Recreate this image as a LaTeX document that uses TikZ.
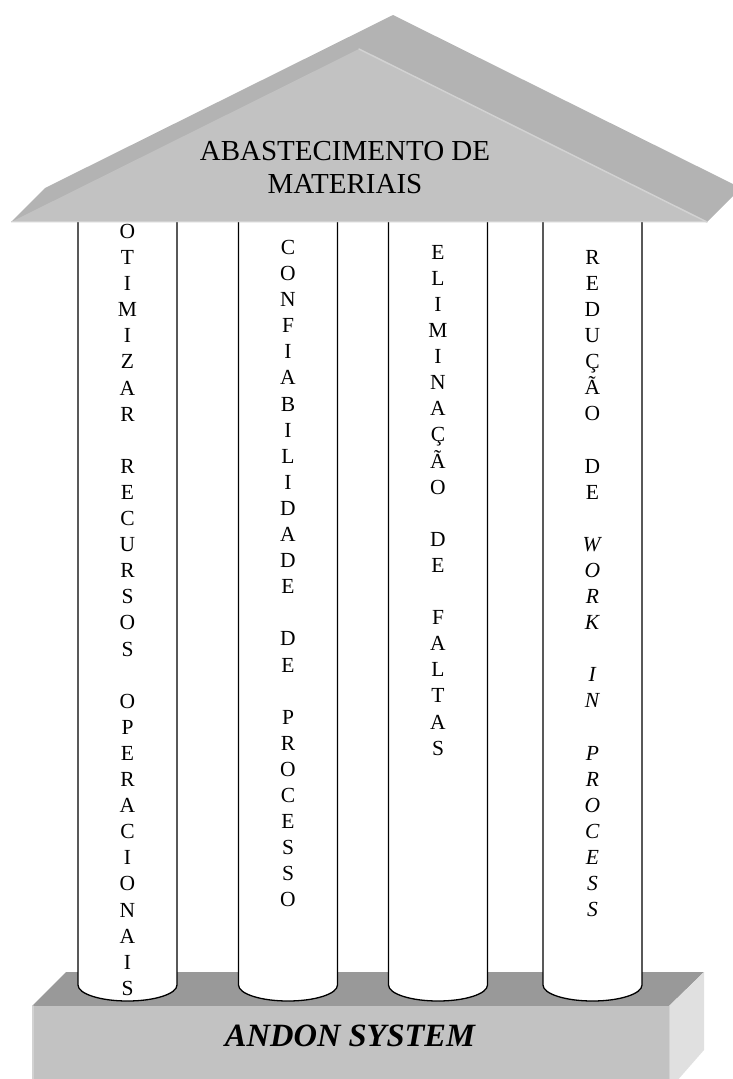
\documentclass[tikz,border=0pt]{standalone}
\usepackage{fontspec}
\setmainfont{Liberation Serif}
\definecolor{roofback}{HTML}{B3B3B3}
\definecolor{rooffront}{HTML}{C2C2C2}
\definecolor{roofedge}{HTML}{D2D2D2}
\definecolor{basetop}{HTML}{999999}
\definecolor{basefront}{HTML}{C2C2C2}
\definecolor{baseside}{HTML}{E0E0E0}
\begin{document}
\begin{tikzpicture}[x=1pt, y=-1pt, line join=round, line cap=round,
	pillar/.style={draw=black, fill=white, line width=1.3pt},
	letters/.style={align=center, inner sep=0pt, anchor=north, font=\fontsize{21.5}{26.1}\selectfont}]
	\def\ytop{215} % topo dos pilares
	\def\ybot{985}
	\def\rp{49.5}
	\useasboundingbox (0,0) rectangle (733,1079);
	\clip (0,0) rectangle (733,1079);
	% base
	\fill[basetop] (32,1006) -- (66,972) -- (704,972) -- (669,1006) -- cycle;
	\fill[basefront] (32,1006) rectangle (669,1090);
	\fill[baseside] (669,1006) -- (704,972) -- (704,1050) -- (669,1090) -- cycle;
	\draw[roofedge, line width=1pt] (669,1006) -- (669,1079);
	\draw[roofedge, line width=1.5pt] (33,1006) -- (33,1079);
	% pilares
	\foreach \xc in {127.5,288,438,592.5}
		\draw[pillar] (\xc-\rp,\ytop) -- (\xc-\rp,\ybot) arc[start angle=180, end angle=0, x radius=\rp, y radius=16] -- (\xc+\rp,\ytop);
	% telhado
	\fill[roofback] (11,222) -- (45,188) -- (393,15) -- (741,188) -- (707,222) -- cycle;
	\fill[rooffront] (11,222) -- (359,49) -- (707,222) -- cycle;
	\draw[roofedge, line width=1.5pt] (359,49) -- (707,222);
	\draw[roofedge, line width=1.2pt] (12,221.5) -- (706,221.5);
	\node[font=\fontsize{29}{33}\selectfont, align=center] (telhado) at (345,167.5) {ABASTECIMENTO DE\\MATERIAIS};
	\node[font=\bfseries\itshape\fontsize{32.5}{36}\selectfont] (andon) at (350,1036) {ANDON SYSTEM};
	% textos dos pilares
	\node[letters] (otimizar) at (127.5,224) {O\\T\\I\\M\\I\\Z\\A\\R\\~\\R\\E\\C\\U\\R\\S\\O\\S\\~\\O\\P\\E\\R\\A\\C\\I\\O\\N\\A\\I\\S};
	\node[letters] (confiabilidade) at (288,240) {C\\O\\N\\F\\I\\A\\B\\I\\L\\I\\D\\A\\D\\E\\~\\D\\E\\~\\P\\R\\O\\C\\E\\S\\S\\O};
	\node[letters] (eliminacao) at (438,245) {E\\L\\I\\M\\I\\N\\A\\Ç\\Ã\\O\\~\\D\\E\\~\\F\\A\\L\\T\\A\\S};
	\node[letters] (reducao) at (592.5,250) {R\\E\\D\\U\\Ç\\Ã\\O\\~\\D\\E\\~\\\textit{W}\\\textit{O}\\\textit{R}\\\textit{K}\\~\\\textit{I}\\\textit{N}\\~\\\textit{P}\\\textit{R}\\\textit{O}\\\textit{C}\\\textit{E}\\\textit{S}\\\textit{S}};
\end{tikzpicture}
\end{document}
